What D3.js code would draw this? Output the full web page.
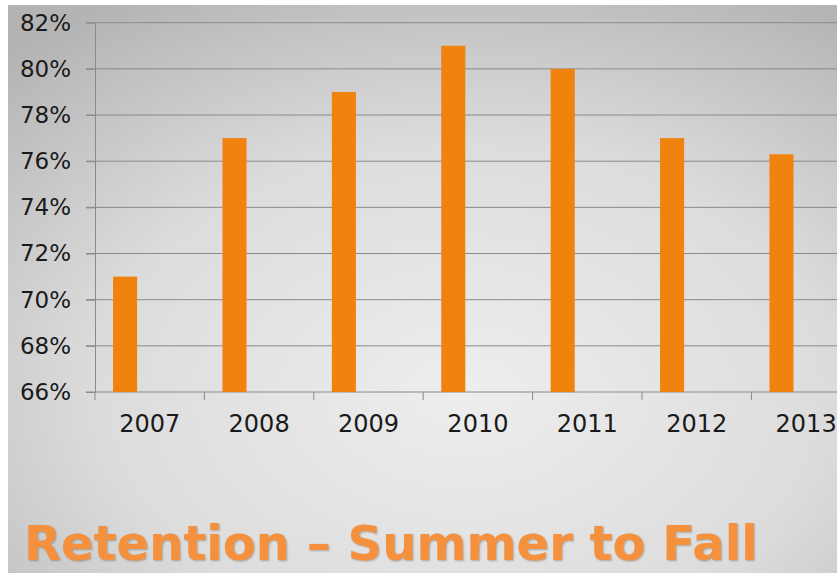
<!DOCTYPE html>
<html>
<head>
<meta charset="utf-8">
<script src="https://cdn.jsdelivr.net/npm/d3@7"></script>
<style>
  body { margin: 0; overflow: hidden; background: #fff; }
  svg { display: block; }
</style>
</head>
<body>
<div id="chart"></div>
<script>
const years = ["2007", "2008", "2009", "2010", "2011", "2012", "2013"];
const retention = [71, 77, 79, 81, 80, 77, 76.3];
const yTicks = [66, 68, 70, 72, 74, 76, 78, 80, 82];
const title = "Retention \u2013 Summer to Fall";

const width = 837, height = 573;
const margin = { top: 22.7, left: 95 };
const plotBottom = 392;
const gridColor = "#8a8a8a";
const labelFont = "DejaVu Sans, Verdana, sans-serif";

const svg = d3.select("#chart").append("svg")
    .attr("width", width)
    .attr("height", height);

// slide background (the picture has a thin white border top and left)
const defs = svg.append("defs");
const grad = defs.append("radialGradient")
    .attr("id", "bg")
    .attr("cx", "55%").attr("cy", "68%").attr("r", "80%");
grad.append("stop").attr("offset", "0%").attr("stop-color", "#eeeeee");
grad.append("stop").attr("offset", "55%").attr("stop-color", "#dcdcdc");
grad.append("stop").attr("offset", "100%").attr("stop-color", "#b4b4b4");

svg.append("rect")
    .attr("width", width)
    .attr("height", height)
    .attr("fill", "#ffffff");
svg.append("rect")
    .attr("x", 8)
    .attr("y", 5)
    .attr("width", width - 8)
    .attr("height", height - 5)
    .attr("fill", "url(#bg)");

const x = d3.scaleBand()
    .domain(years)
    .range([margin.left, margin.left + 7 * 109.4]);

const y = d3.scaleLinear()
    .domain([66, 82])
    .range([plotBottom, margin.top]);

// gridlines
svg.append("g")
    .selectAll("line")
    .data(yTicks)
    .join("line")
    .attr("x1", margin.left - 9)
    .attr("x2", width)
    .attr("y1", d => y(d))
    .attr("y2", d => y(d))
    .attr("stroke", gridColor)
    .attr("stroke-width", 1);

// y axis
const yAxis = svg.append("g")
    .attr("transform", `translate(${margin.left},0)`)
    .call(d3.axisLeft(y).tickValues(yTicks).tickSize(9).tickSizeOuter(0).tickPadding(15)
        .tickFormat(d => d + "%"));
yAxis.select(".domain").attr("stroke", gridColor);
yAxis.selectAll(".tick line").attr("stroke", gridColor);
yAxis.selectAll("text")
    .attr("font-family", labelFont)
    .attr("font-size", 23)
    .attr("fill", "#1a1a1a");

// x axis
const xAxis = svg.append("g")
    .attr("transform", `translate(0,${plotBottom})`)
    .call(d3.axisBottom(x).tickSize(0).tickPadding(23));
xAxis.select(".domain").remove();
xAxis.selectAll("text")
    .attr("font-family", labelFont)
    .attr("font-size", 24)
    .attr("fill", "#1a1a1a");

// category separators
svg.append("g")
    .selectAll("line")
    .data(years)
    .join("line")
    .attr("x1", d => x(d))
    .attr("x2", d => x(d))
    .attr("y1", plotBottom)
    .attr("y2", plotBottom + 8)
    .attr("stroke", gridColor);

// bars
const barOffset = x.bandwidth() * 0.165;
const barWidth = x.bandwidth() * 0.22;
svg.append("g")
    .selectAll("rect")
    .data(years)
    .join("rect")
    .attr("x", d => x(d) + barOffset)
    .attr("y", (d, i) => y(retention[i]))
    .attr("width", barWidth)
    .attr("height", (d, i) => plotBottom - y(retention[i]))
    .attr("fill", "#f0820e");

// slide title
const t = svg.append("text")
    .attr("x", 24)
    .attr("y", 560)
    .attr("font-family", labelFont)
    .attr("font-weight", "bold")
    .attr("font-size", 48)
    .attr("fill", "#f5913d")
    .attr("style", "text-shadow: 1px 1px 2px rgba(0,0,0,0.25)")
    .text(title);
const len = t.node().getComputedTextLength();
t.attr("font-size", 48 * 734 / len);
</script>
</body>
</html>
